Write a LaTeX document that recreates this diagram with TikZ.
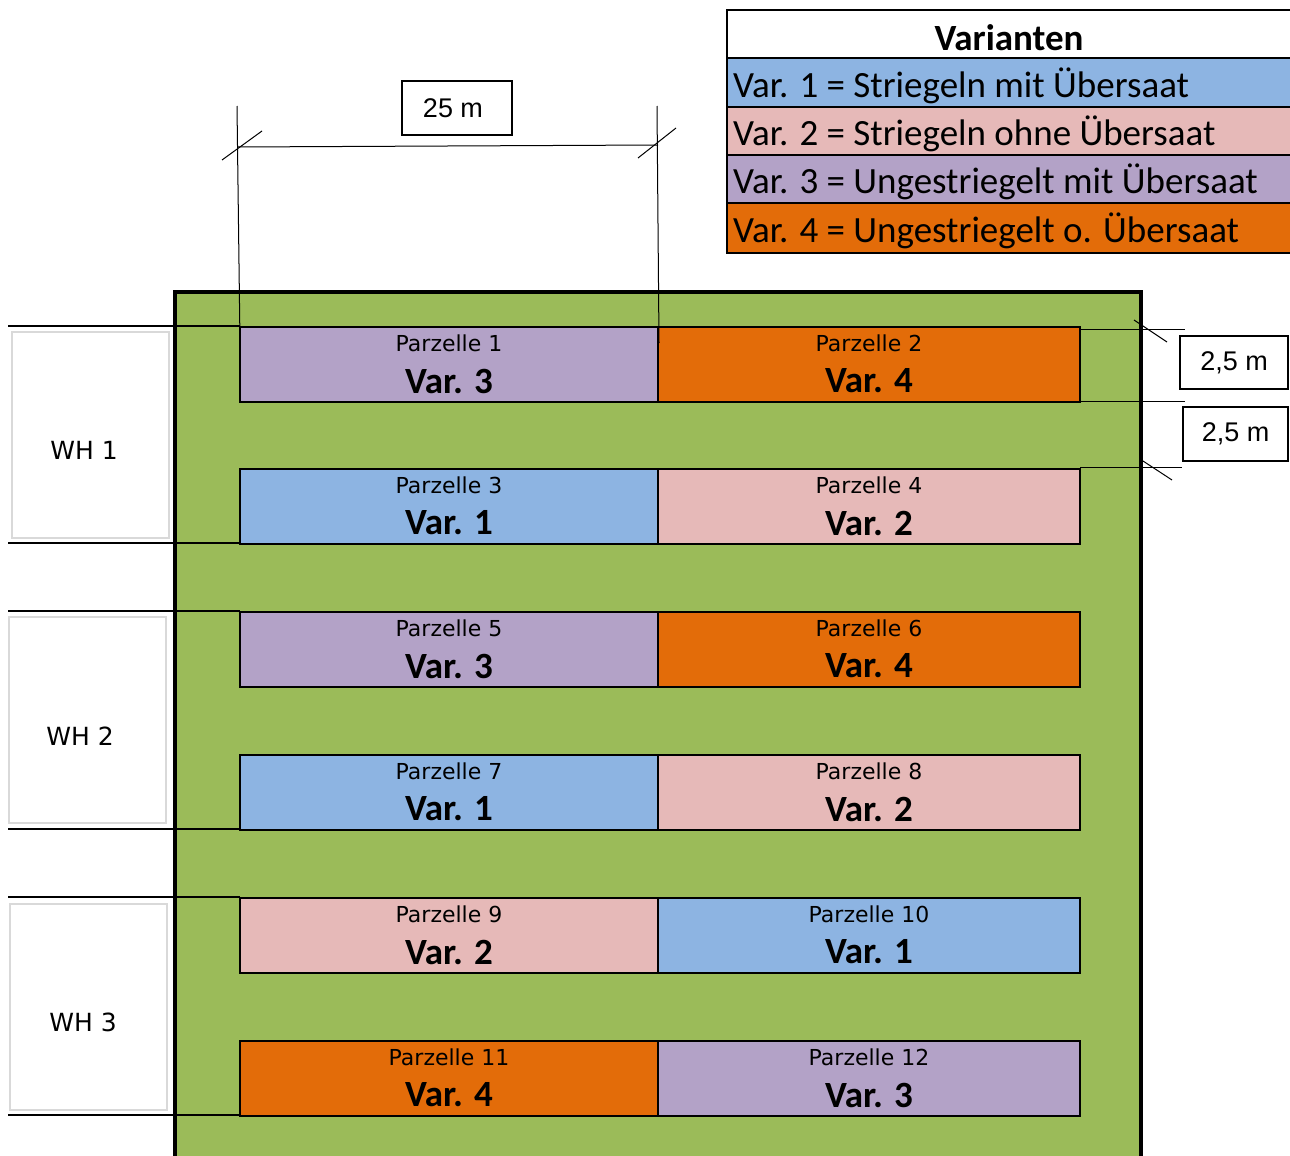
\documentclass[tikz,border=0pt]{standalone}
\usepackage{fontspec}
\setmainfont{Carlito}
\newfontfamily\arialf{Liberation Sans}
\newfontfamily\dvs{DejaVu Sans}
\definecolor{feld}{HTML}{9BBB59}
\definecolor{vone}{HTML}{8DB4E2}
\definecolor{vtwo}{HTML}{E6B9B8}
\definecolor{vthree}{HTML}{B3A2C7}
\definecolor{vfour}{HTML}{E36C09}
\tikzset{
  plotbox/.style={draw=black, line width=1.6pt, minimum height=75pt, inner sep=0pt},
  parztext/.style={font=\dvs\fontsize{22}{22}\selectfont, text=black, inner sep=0pt},
  vartext/.style={font=\bfseries\fontsize{37}{37}\selectfont, inner sep=0pt},
  whbox/.style={draw=black!15, line width=2pt, fill=white, minimum width=157pt, minimum height=206pt, inner sep=0pt},
  whtext/.style={font=\dvs\fontsize{25}{25}\selectfont, inner sep=0pt},
  dimbox/.style={draw=black, line width=1.5pt, fill=white, inner sep=0pt, font=\arialf\fontsize{27}{27}\selectfont},
  thin/.style={line width=1pt},
  whline/.style={line width=2pt},
  legrow/.style={draw=black, line width=2pt},
  legtext/.style={font=\fontsize{37}{37}\selectfont, anchor=west, inner sep=0pt}
}
\begin{document}
\begin{tikzpicture}[x=1pt,y=-1pt]
\useasboundingbox (0,0) rectangle (1290,1156);
\clip (0,0) rectangle (1290,1156);
% field
\fill[feld] (175,292) rectangle (1141,1170);
\draw[line width=4pt] (175,1170) -- (175,292) -- (1141,292) -- (1141,1170);
% WH lines
\foreach \yy in {326,543,611,829,897,1115}
  \draw[whline] (8,\yy) -- (240,\yy);
% WH boxes
\node[whbox] (wh1) at (90.5,434.5) {};
\node[whbox] (wh2) at (87.5,719.5) {};
\node[whbox] (wh3) at (88,1006.5) {};
\node[whtext] (wht1) at (84,450) {WH 1};
\node[whtext] (wht2) at (80,736) {WH 2};
\node[whtext] (wht3) at (83,1022) {WH 3};
% plots
\foreach \n/\cx/\w/\top/\col/\v in {
  1/449/418/326/vthree/3, 2/869/422/326/vfour/4,
  3/449/418/468/vone/1, 4/869/422/468/vtwo/2,
  5/449/418/611/vthree/3, 6/869/422/611/vfour/4,
  7/449/418/754/vone/1, 8/869/422/754/vtwo/2,
  9/449/418/897/vtwo/2, 10/869/422/897/vone/1,
  11/449/418/1040/vfour/4, 12/869/422/1040/vthree/3}{
  \node[plotbox, fill=\col, minimum width=\w pt, anchor=north] (p\n) at (\cx,\top) {};
  \node[parztext] (pt\n) at ([yshift=-17pt]p\n.north) {Parzelle \n};
  \node[vartext] (pv\n) at ([yshift=-55pt]p\n.north) {Var. \v};
}
% dimension 25 m
\coordinate (la) at (237,106);
\coordinate (lb) at (240,343);
\coordinate (ra) at (657,106);
\coordinate (rb) at (659,343);
\coordinate (ha) at (237,147);
\coordinate (hb) at (658,145);
\draw[thin] (la) -- (lb);
\draw[thin] (ra) -- (rb);
\draw[thin] (ha) -- (hb);
\draw[thin] (222,160) -- (262,131);
\draw[thin] (638,158) -- (676,128);
\node[dimbox, minimum width=110pt, minimum height=54pt] (d25) at (457,108) {\hspace*{-8pt}25 m};
% dimension 2,5 m
\draw[thin] (1080,329) -- (1185,329);
\draw[thin] (1080,401) -- (1185,401);
\draw[thin] (1080,467) -- (1182,467);
\draw[thin] (1134,320) -- (1167,342);
\draw[thin] (1143,461) -- (1172,480);
\node[dimbox, minimum width=108pt, minimum height=53pt] (d1) at (1234,362.5) {2,5 m};
\node[dimbox, minimum width=105pt, minimum height=54pt] (d2) at (1235.5,434) {2,5 m};
% legend
\filldraw[legrow, fill=white] (727,10) rectangle (1292,58);
\filldraw[legrow, fill=vone] (727,58) rectangle (1292,107);
\filldraw[legrow, fill=vtwo] (727,107) rectangle (1292,155);
\filldraw[legrow, fill=vthree] (727,155) rectangle (1292,203);
\filldraw[legrow, fill=vfour] (727,203) rectangle (1292,253);
\node[font=\bfseries\fontsize{37}{37}\selectfont, inner sep=0pt] (lh) at (1009,38) {Varianten};
\node[legtext] (l1) at (733,86) {Var. 1 = Striegeln mit Übersaat};
\node[legtext] (l2) at (733,134) {Var. 2 = Striegeln ohne Übersaat};
\node[legtext] (l3) at (733,182) {Var. 3 = Ungestriegelt mit Übersaat};
\node[legtext] (l4) at (733,231) {Var. 4 = Ungestriegelt o. Übersaat};
\end{tikzpicture}
\end{document}
